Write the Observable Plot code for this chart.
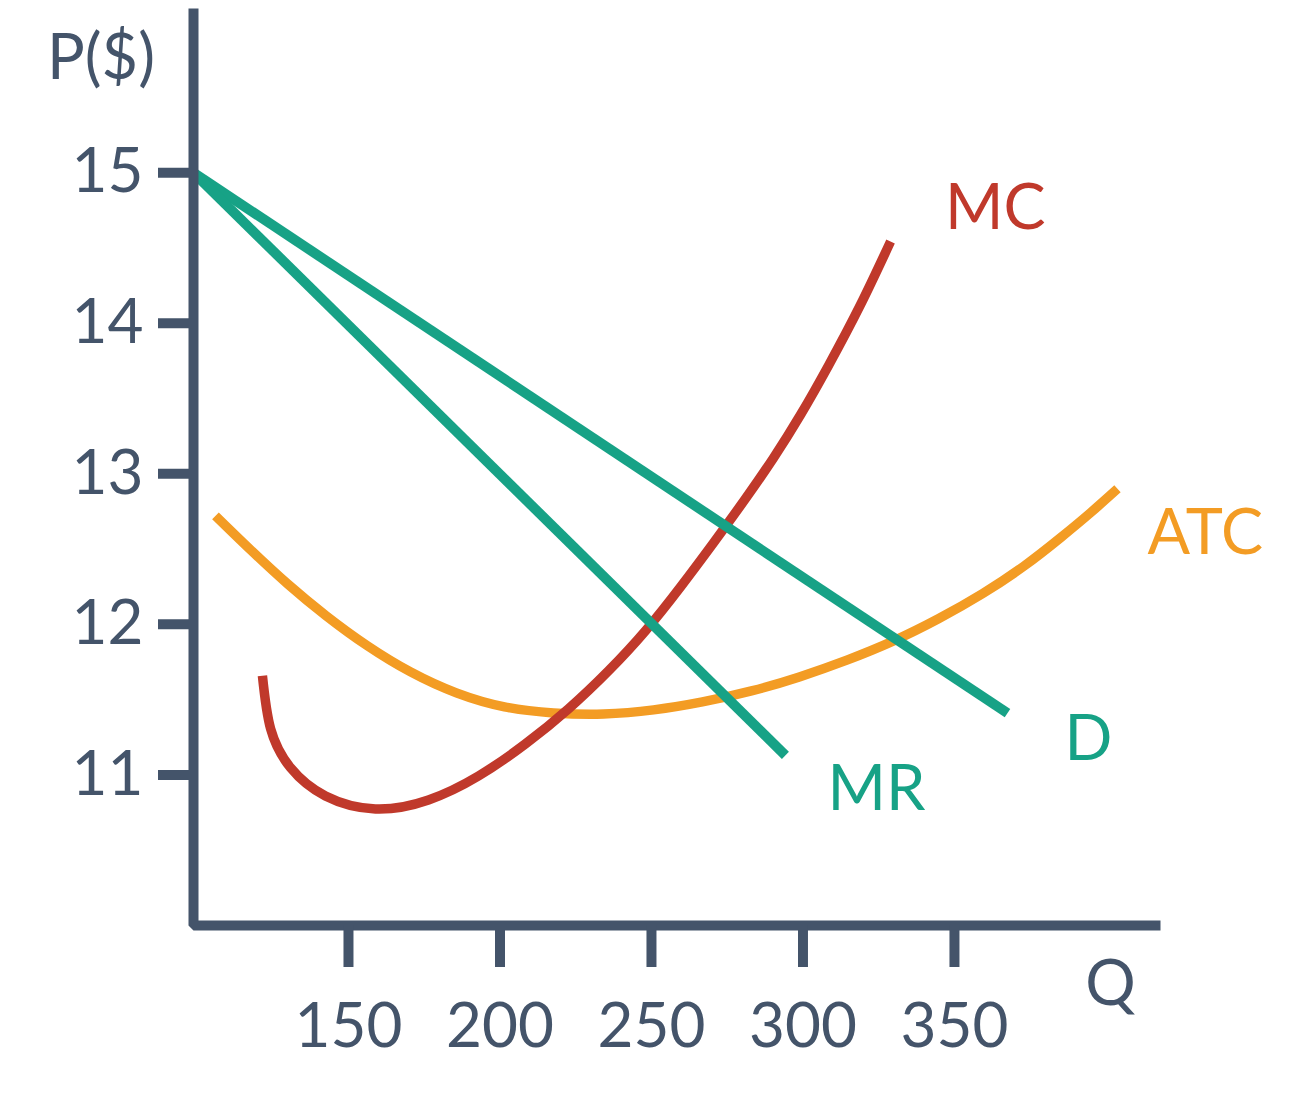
<!DOCTYPE html>
<html>
<head>
<meta charset="utf-8">
<script src="https://cdn.jsdelivr.net/npm/d3@7"></script>
<script src="https://cdn.jsdelivr.net/npm/@observablehq/plot@0.6"></script>
<style>
  html, body { margin: 0; padding: 0; background: #ffffff; }
  #chart svg { display: block; }
</style>
</head>
<body>
<div id="chart"></div>
<script>
// ---- data ----
const xTicks = [150, 200, 250, 300, 350];
const yTicks = [11, 12, 13, 14, 15];
const xDomain = [98.85, 418];
const yDomain = [10, 16.09];

const mcQ = [121.6, 124.3, 130.9, 142.4, 158.9, 176.4, 192.9, 208.4, 222.6, 235.8, 248.0, 259.6, 270.5, 281.0, 290.3, 299.2, 308.4, 319.0, 328.9];
const mcP = [11.658, 11.306, 11.047, 10.86, 10.774, 10.834, 10.993, 11.206, 11.439, 11.691, 11.957, 12.249, 12.542, 12.834, 13.106, 13.392, 13.718, 14.123, 14.542];

const atcQ = [106.1, 117.7, 129.9, 142.7, 156.3, 170.5, 185.6, 201.5, 217.7, 234.2, 250.7, 266.8, 283.0, 298.8, 314.7, 329.9, 344.7, 359.2, 373.1, 385.0, 394.9, 403.8];
const atcP = [12.721, 12.495, 12.269, 12.056, 11.857, 11.684, 11.545, 11.452, 11.412, 11.405, 11.432, 11.485, 11.558, 11.651, 11.764, 11.89, 12.037, 12.203, 12.389, 12.575, 12.741, 12.9];

const dQ = [98.85, 367.5];
const dP = [15, 11.41];

const mrQ = [98.85, 294.2];
const mrP = [15, 11.13];

const labelNames = ["MC", "ATC", "D", "MR"];
const labelQ = [363.5, 432.8, 394.2, 324.3];
const labelP = [14.76, 12.60, 11.23, 10.90];

const axisTitles = ["P($)", "Q"];
const axisTitleQ = [68.3, 401.5];
const axisTitleP = [15.754, 9.608];

// ---- styles ----
const RED = "#c0392b", ORANGE = "#f39c24", TEAL = "#17a286", SLATE = "#44546a";
const FONT = "Lato, 'Open Sans', sans-serif";
const FS = 62;

const toPts = (qs, ps) => qs.map((q, i) => ({q, p: ps[i]}));
const mc = toPts(mcQ, mcP);
const atc = toPts(atcQ, atcP);
const dem = toPts(dQ, dP);
const mr = toPts(mrQ, mrP);
const labels = labelNames.map((t, i) => ({t, q: labelQ[i], p: labelP[i]}));
const labelColors = {MC: RED, ATC: ORANGE, D: TEAL, MR: TEAL};
const titles = axisTitles.map((t, i) => ({t, q: axisTitleQ[i], p: axisTitleP[i]}));
const axisL = [
  {q: xDomain[0], p: yDomain[1]},
  {q: xDomain[0], p: yDomain[0]},
  {q: xDomain[1], p: yDomain[0]}
];

const chart = Plot.plot({
  width: 1293,
  height: 1101,
  marginLeft: 193,
  marginRight: 133,
  marginTop: 8,
  marginBottom: 176,
  x: {domain: xDomain},
  y: {domain: yDomain},
  style: {fontFamily: FONT, fontSize: FS + "px", color: SLATE, background: "#ffffff", overflow: "visible"},
  marks: [
    Plot.line(atc, {x: "q", y: "p", stroke: ORANGE, strokeWidth: 9.5, curve: "natural", strokeLinecap: "butt"}),
    Plot.line(mc, {x: "q", y: "p", stroke: RED, strokeWidth: 9.5, curve: "natural", strokeLinecap: "butt"}),
    Plot.line(dem, {x: "q", y: "p", stroke: TEAL, strokeWidth: 10, strokeLinecap: "butt"}),
    Plot.line(mr, {x: "q", y: "p", stroke: TEAL, strokeWidth: 10, strokeLinecap: "butt"}),
    Plot.line(axisL, {x: "q", y: "p", stroke: SLATE, strokeWidth: 10, strokeLinejoin: "miter", strokeLinecap: "butt"}),
    Plot.axisX({ticks: xTicks, tickSize: 42, tickPadding: 35, strokeWidth: 10, color: SLATE, fontSize: FS, label: null, tickFormat: d => String(d)}),
    Plot.axisY({ticks: yTicks, tickSize: 35, tickPadding: 15, strokeWidth: 10, color: SLATE, fontSize: FS, label: null, tickFormat: d => String(d)}),
    Plot.text(labels, {x: "q", y: "p", text: "t", fill: d => labelColors[d.t], fontSize: 63, textAnchor: "middle", lineAnchor: "middle"}),
    Plot.text(titles, {x: "q", y: "p", text: "t", fill: SLATE, fontSize: 63, textAnchor: "middle", lineAnchor: "middle"})
  ]
});
document.getElementById("chart").appendChild(chart);
</script>
</body>
</html>
